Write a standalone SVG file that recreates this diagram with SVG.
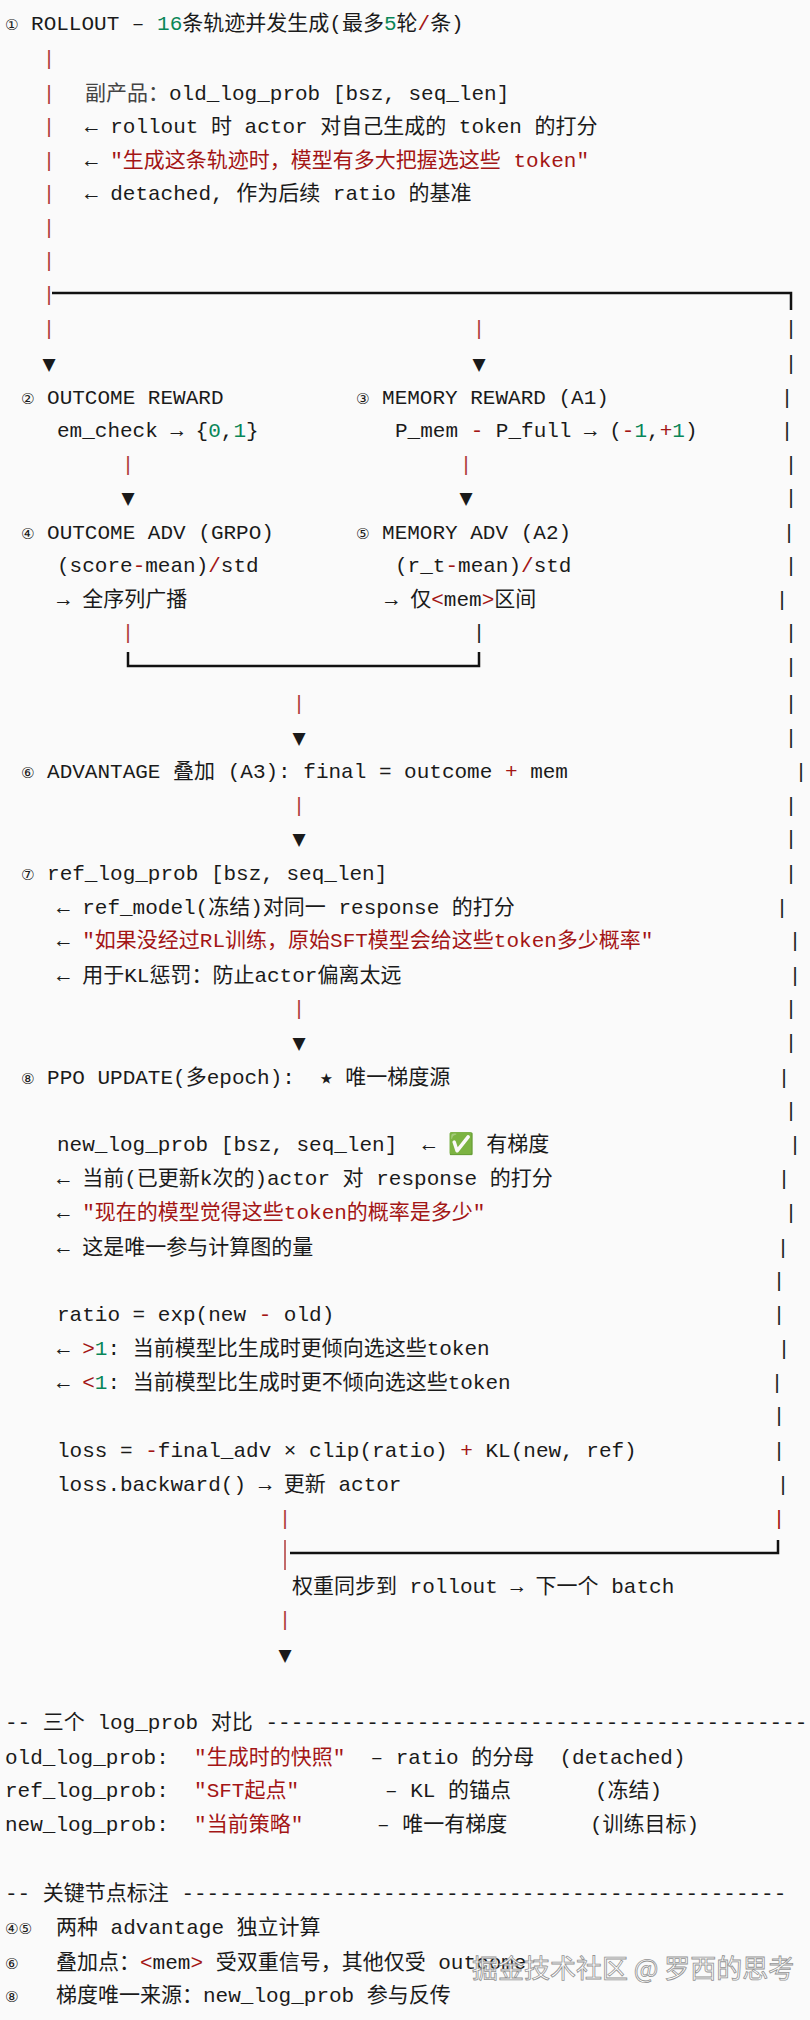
<svg xmlns="http://www.w3.org/2000/svg" width="810" height="2020" viewBox="0 0 810 2020">
<style>
text{font-family:"Liberation Mono","DejaVu Sans Mono","Noto Sans CJK SC",monospace;font-size:21px;fill:#1a1a1a;white-space:pre}
.n{font-size:15px;font-family:"DejaVu Sans",sans-serif}
.r{fill:#a31515}
.g{fill:#098658}
.b{fill:#b03a3a;text-anchor:middle}
.k{fill:#222;text-anchor:middle}
.a{font-family:"DejaVu Sans",sans-serif;font-size:17px;text-anchor:middle}
.c{fill:#444}
.wm{font-family:"Noto Sans CJK SC",sans-serif;font-size:26px;fill:#ffffff;stroke:#888;stroke-width:0.8;opacity:0.9}
</style>
<rect width="810" height="2020" fill="#fafafa"/>
<g id="connectors" fill="none" stroke="#111" stroke-width="2.5">
<path d="M52,293 H791 V310"/>
<path d="M128,652 V666 H479 V652"/>
<path d="M290,1553 H778 V1540"/>
</g>
<g id="bars">
<text class="b" x="49" y="65">|</text>
<text class="b" x="49" y="100">|</text>
<text class="b" x="49" y="133">|</text>
<text class="b" x="49" y="167">|</text>
<text class="b" x="49" y="200">|</text>
<text class="b" x="49" y="234">|</text>
<text class="b" x="49" y="267">|</text>
<text class="b" x="49" y="301">|</text>
<text class="b" x="49" y="335">|</text>
<text class="b" x="479" y="335">|</text>
<text class="b" x="128" y="471">|</text>
<text class="b" x="466" y="471">|</text>
<text class="b" x="128" y="639">|</text>
<text class="k" x="479" y="639">|</text>
<text class="b" x="299" y="710">|</text>
<text class="b" x="299" y="812">|</text>
<text class="b" x="299" y="1015">|</text>
<text class="b" x="285" y="1525">|</text>
<text class="r" x="779" y="1525" text-anchor="middle">|</text>
<text class="b" x="285" y="1626">|</text>
<text class="k" x="791" y="335">|</text>
<text class="k" x="791" y="370">|</text>
<text class="k" x="787" y="404">|</text>
<text class="k" x="787" y="437">|</text>
<text class="k" x="791" y="471">|</text>
<text class="k" x="791" y="504">|</text>
<text class="k" x="789" y="539">|</text>
<text class="k" x="791" y="572">|</text>
<text class="k" x="782" y="606">|</text>
<text class="k" x="791" y="639">|</text>
<text class="k" x="791" y="673">|</text>
<text class="k" x="791" y="710">|</text>
<text class="k" x="791" y="744">|</text>
<text class="k" x="801" y="778">|</text>
<text class="k" x="791" y="812">|</text>
<text class="k" x="791" y="845">|</text>
<text class="k" x="791" y="880">|</text>
<text class="k" x="782" y="914">|</text>
<text class="k" x="795" y="947">|</text>
<text class="k" x="795" y="982">|</text>
<text class="k" x="791" y="1015">|</text>
<text class="k" x="791" y="1049">|</text>
<text class="k" x="784" y="1084">|</text>
<text class="k" x="791" y="1117">|</text>
<text class="k" x="795" y="1151">|</text>
<text class="k" x="784" y="1185">|</text>
<text class="k" x="791" y="1219">|</text>
<text class="k" x="783" y="1254">|</text>
<text class="k" x="779" y="1287">|</text>
<text class="k" x="779" y="1321">|</text>
<text class="k" x="784" y="1355">|</text>
<text class="k" x="777" y="1389">|</text>
<text class="k" x="779" y="1422">|</text>
<text class="k" x="779" y="1457">|</text>
<text class="k" x="783" y="1491">|</text>
</g>
<g id="connector-left">
<path d="M285,1540 V1570" stroke="#b03a3a" stroke-width="1.5" fill="none"/>
</g>
<g id="arrows">
<text class="a" x="49" y="370">▼</text>
<text class="a" x="479" y="370">▼</text>
<text class="a" x="128" y="504">▼</text>
<text class="a" x="466" y="504">▼</text>
<text class="a" x="299" y="744">▼</text>
<text class="a" x="299" y="845">▼</text>
<text class="a" x="299" y="1049">▼</text>
<text class="a" x="285" y="1661">▼</text>
</g>
<g id="n1-rollout">
<text x="5" y="30"><tspan class="n">①</tspan> ROLLOUT – <tspan class="g">16</tspan>条轨迹并发生成(最多<tspan class="g">5</tspan>轮<tspan class="r">/</tspan>条)</text>
<text x="85" y="100"><tspan class="c">副产品：</tspan>old_log_prob [bsz, seq_len]</text>
<text x="85" y="133">← rollout 时 actor 对自己生成的 token 的打分</text>
<text x="85" y="167">← <tspan class="r">"生成这条轨迹时，模型有多大把握选这些 token"</tspan></text>
<text x="85" y="200">← detached, 作为后续 ratio 的基准</text>
</g>
<g id="n2-outcome-reward">
<text x="21" y="404"><tspan class="n">②</tspan> OUTCOME REWARD</text>
<text x="57" y="437">em_check → {<tspan class="g">0</tspan>,<tspan class="g">1</tspan>}</text>
</g>
<g id="n3-memory-reward">
<text x="356" y="404"><tspan class="n">③</tspan> MEMORY REWARD (A1)</text>
<text x="395" y="437">P_mem <tspan class="r">-</tspan> P_full → (<tspan class="r">-</tspan><tspan class="g">1</tspan>,<tspan class="r">+</tspan><tspan class="g">1</tspan>)</text>
</g>
<g id="n4-outcome-adv">
<text x="21" y="539"><tspan class="n">④</tspan> OUTCOME ADV (GRPO)</text>
<text x="57" y="572">(score<tspan class="r">-</tspan>mean)<tspan class="r">/</tspan>std</text>
<text x="57" y="606">→ 全序列广播</text>
</g>
<g id="n5-memory-adv">
<text x="356" y="539"><tspan class="n">⑤</tspan> MEMORY ADV (A2)</text>
<text x="395" y="572">(r_t<tspan class="r">-</tspan>mean)<tspan class="r">/</tspan>std</text>
<text x="385" y="606">→ 仅<tspan class="r">&lt;</tspan>mem<tspan class="r">&gt;</tspan>区间</text>
</g>
<g id="n6-advantage">
<text x="21" y="778"><tspan class="n">⑥</tspan> ADVANTAGE 叠加 (A3): final = outcome <tspan class="r">+</tspan> mem</text>
</g>
<g id="n7-ref">
<text x="21" y="880"><tspan class="n">⑦</tspan> ref_log_prob [bsz, seq_len]</text>
<text x="57" y="914">← ref_model(冻结)对同一 response 的打分</text>
<text x="57" y="947">← <tspan class="r">"如果没经过RL训练，原始SFT模型会给这些token多少概率"</tspan></text>
<text x="57" y="982">← 用于KL惩罚：防止actor偏离太远</text>
</g>
<g id="n8-ppo">
<text x="21" y="1084"><tspan class="n">⑧</tspan> PPO UPDATE(多epoch):  ★ 唯一梯度源</text>
<text x="57" y="1151">new_log_prob [bsz, seq_len]  ← <tspan fill="#2ecc71">✅</tspan> 有梯度</text>
<text x="57" y="1185">← 当前(已更新k次的)actor 对 response 的打分</text>
<text x="57" y="1219">← <tspan class="r">"现在的模型觉得这些token的概率是多少"</tspan></text>
<text x="57" y="1254">← 这是唯一参与计算图的量</text>
<text x="57" y="1321">ratio = exp(new <tspan class="r">-</tspan> old)</text>
<text x="57" y="1355">← <tspan class="r">&gt;</tspan><tspan class="g">1</tspan>: 当前模型比生成时更倾向选这些token</text>
<text x="57" y="1389">← <tspan class="r">&lt;</tspan><tspan class="g">1</tspan>: 当前模型比生成时更不倾向选这些token</text>
<text x="57" y="1457">loss = <tspan class="r">-</tspan>final_adv × clip(ratio) <tspan class="r">+</tspan> KL(new, ref)</text>
<text x="57" y="1491">loss.backward() → 更新 actor</text>
</g>
<g id="n9-sync">
<text x="292" y="1593">权重同步到 rollout → 下一个 batch</text>
</g>
<g id="legend">
<text x="5" y="1729">-- 三个 log_prob 对比 ----------------------------------------------</text>
<text x="5" y="1764">old_log_prob:  <tspan class="r">"生成时的快照"</tspan>  – ratio 的分母  (detached)</text>
<text x="5" y="1797">ref_log_prob:  <tspan class="r">"SFT起点"</tspan></text>
<text x="385" y="1797">– KL 的锚点</text>
<text x="595" y="1797">(冻结)</text>
<text x="5" y="1831">new_log_prob:  <tspan class="r">"当前策略"</tspan></text>
<text x="377" y="1831">– 唯一有梯度</text>
<text x="590" y="1831">(训练目标)</text>
<text x="5" y="1900">-- 关键节点标注 ------------------------------------------------</text>
<text x="5" y="1934"><tspan class="n">④⑤</tspan></text>
<text x="56" y="1934">两种 advantage 独立计算</text>
<text x="5" y="1969"><tspan class="n">⑥</tspan></text>
<text x="56" y="1969">叠加点：<tspan class="r">&lt;</tspan>mem<tspan class="r">&gt;</tspan> 受双重信号，其他仅受 outcome</text>
<text x="5" y="2002"><tspan class="n">⑧</tspan></text>
<text x="56" y="2002">梯度唯一来源：new_log_prob 参与反传</text>
<text class="wm" x="472" y="1978">掘金技术社区 @ 罗西的思考</text>
</g>
</svg>
